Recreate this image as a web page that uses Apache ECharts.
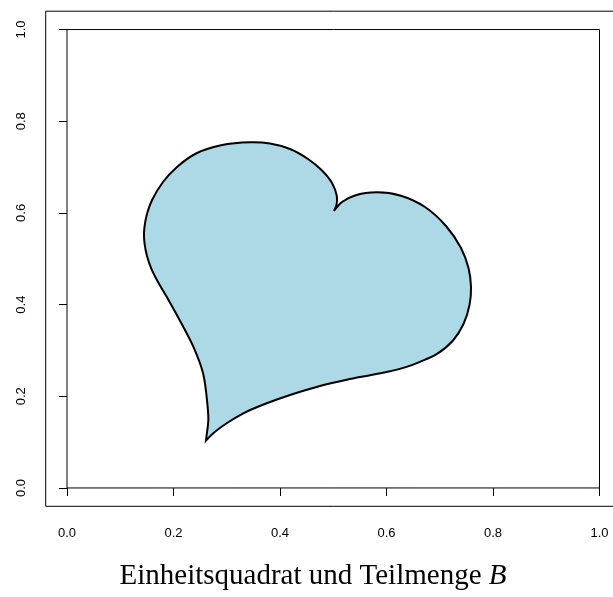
<!DOCTYPE html>
<html>
<head>
<meta charset="utf-8">
<script src="https://cdn.jsdelivr.net/npm/echarts@6/dist/echarts.min.js"></script>
<style>
  html, body { margin: 0; padding: 0; background: #fff; overflow: hidden; }
  /* the plot region runs slightly past the right edge of the window */
  #chart { width: 625px; height: 597px; }
</style>
</head>
<body>
<div id="chart"></div>
<script>
// Tick positions on both axes
var tickValues = [0, 0.2, 0.4, 0.6, 0.8, 1.0];

// Unit square corners (closed outline)
var squareX = [0, 1, 1, 0, 0];
var squareY = [0, 0, 1, 1, 0];

// Subset B: outline in two smooth arcs that meet at the two cusps.
// Arc 1: bottom tip -> left side -> left lobe -> notch
var arc1X = [0.2610, 0.2623, 0.2654, 0.2635, 0.2554, 0.2372, 0.2160, 0.1872, 0.1709, 0.1587, 0.1502, 0.1455, 0.1446, 0.1469, 0.1514, 0.1598, 0.1803, 0.2066, 0.2423, 0.2892, 0.3437, 0.3812, 0.4188, 0.4526, 0.4789, 0.4977, 0.5067, 0.5061, 0.5014];
var arc1Y = [0.1032, 0.1156, 0.1483, 0.1847, 0.2508, 0.3082, 0.3566, 0.4172, 0.4493, 0.4776, 0.5060, 0.5344, 0.5562, 0.5802, 0.6026, 0.6281, 0.6674, 0.7001, 0.7296, 0.7474, 0.7540, 0.7514, 0.7394, 0.7176, 0.6925, 0.6652, 0.6369, 0.6172, 0.6041];
// Arc 2: notch -> right lobe -> lower edge -> bottom tip
var arc2X = [0.5014, 0.5164, 0.5408, 0.5822, 0.6254, 0.6723, 0.7117, 0.7399, 0.7540, 0.7587, 0.7559, 0.7446, 0.7249, 0.6948, 0.6629, 0.6347, 0.6066, 0.5690, 0.5253, 0.4751, 0.4188, 0.3750, 0.3311, 0.2999, 0.2747, 0.2610];
var arc2Y = [0.6041, 0.6238, 0.6380, 0.6449, 0.6380, 0.6129, 0.5714, 0.5234, 0.4798, 0.4384, 0.3991, 0.3577, 0.3217, 0.2923, 0.2752, 0.2630, 0.2547, 0.2460, 0.2362, 0.2225, 0.2028, 0.1847, 0.1629, 0.1411, 0.1193, 0.1032];

var titleText = 'Einheitsquadrat und Teilmenge ';
var titleSymbol = 'B';

function zip(xs, ys) {
  return xs.map(function (x, i) { return [x, ys[i]]; });
}

function dist(a, b) {
  return Math.sqrt((a[0] - b[0]) * (a[0] - b[0]) + (a[1] - b[1]) * (a[1] - b[1]));
}

// Centripetal Catmull-Rom spline through pixel points, as cubic Bezier path commands
function splinePath(pts, startWithMove) {
  var d = startWithMove ? 'M' + pts[0][0] + ',' + pts[0][1] : '';
  var n = pts.length;
  for (var i = 0; i < n - 1; i++) {
    var p0 = pts[Math.max(i - 1, 0)];
    var p1 = pts[i];
    var p2 = pts[i + 1];
    var p3 = pts[Math.min(i + 2, n - 1)];
    var d1 = Math.sqrt(dist(p0, p1));
    var d2 = Math.sqrt(dist(p1, p2));
    var d3 = Math.sqrt(dist(p2, p3));
    var c1 = p1.slice(), c2 = p2.slice();
    if (d1 > 1e-6) {
      for (var k = 0; k < 2; k++) {
        c1[k] = (d1 * d1 * p2[k] - d2 * d2 * p0[k] + (2 * d1 * d1 + 3 * d1 * d2 + d2 * d2) * p1[k]) / (3 * d1 * (d1 + d2));
      }
    }
    if (d3 > 1e-6) {
      for (var m = 0; m < 2; m++) {
        c2[m] = (d3 * d3 * p1[m] - d2 * d2 * p3[m] + (2 * d3 * d3 + 3 * d3 * d2 + d2 * d2) * p2[m]) / (3 * d3 * (d3 + d2));
      }
    }
    d += 'C' + c1[0] + ',' + c1[1] + ',' + c2[0] + ',' + c2[1] + ',' + p2[0] + ',' + p2[1];
  }
  return d;
}

var chart = echarts.init(document.getElementById('chart'), null, { renderer: 'canvas' });

var axisCommon = {
  type: 'value',
  min: -0.04,
  max: 1.04,
  splitLine: { show: false },
  axisLine: { show: false },
  axisTick: {
    show: true,
    customValues: tickValues,
    length: 8,
    lineStyle: { color: '#000', width: 1 }
  },
  axisLabel: {
    show: true,
    customValues: tickValues,
    color: '#000',
    fontFamily: 'Liberation Sans, Arial, sans-serif',
    fontSize: 13,
    formatter: function (v) { return v.toFixed(1); }
  }
};

var serif = 'Liberation Serif, Times New Roman, serif';

var option = {
  animation: false,
  backgroundColor: '#fff',
  grid: {
    show: true,
    left: 45.7,
    top: 11.2,
    width: 575.1,
    height: 495.1,
    borderColor: '#000',
    borderWidth: 1,
    backgroundColor: 'transparent',
    containLabel: false
  },
  xAxis: Object.assign({}, axisCommon, {
    axisLabel: Object.assign({}, axisCommon.axisLabel, { margin: 21 })
  }),
  yAxis: Object.assign({}, axisCommon, {
    axisLabel: Object.assign({}, axisCommon.axisLabel, { margin: 18, rotate: 90 })
  }),
  title: {
    text: '{t|' + titleText + '}{b|' + titleSymbol + '}',
    left: 308,
    top: 557,
    textAlign: 'center',
    textStyle: {
      fontWeight: 'normal',
      rich: {
        t: { fontFamily: serif, fontSize: 29, fontWeight: 'normal', color: '#000' },
        b: { fontFamily: serif, fontSize: 29, fontWeight: 'normal', fontStyle: 'italic', color: '#000' }
      }
    }
  },
  series: [
    {
      type: 'line',
      data: zip(squareX, squareY),
      symbol: 'none',
      silent: true,
      lineStyle: { color: '#000', width: 1 },
      z: 2
    },
    {
      type: 'custom',
      data: [[0.5, 0.5]],
      silent: true,
      z: 3,
      renderItem: function (params, api) {
        var a1 = zip(arc1X, arc1Y).map(function (p) { return api.coord(p); });
        var a2 = zip(arc2X, arc2Y).map(function (p) { return api.coord(p); });
        var d = splinePath(a1, true) + splinePath(a2, false) + 'Z';
        return {
          type: 'path',
          shape: { pathData: d },
          style: {
            fill: '#ADD8E6',
            stroke: '#000',
            lineWidth: 2,
            lineJoin: 'miter'
          }
        };
      }
    }
  ]
};

chart.setOption(option);
</script>
</body>
</html>
